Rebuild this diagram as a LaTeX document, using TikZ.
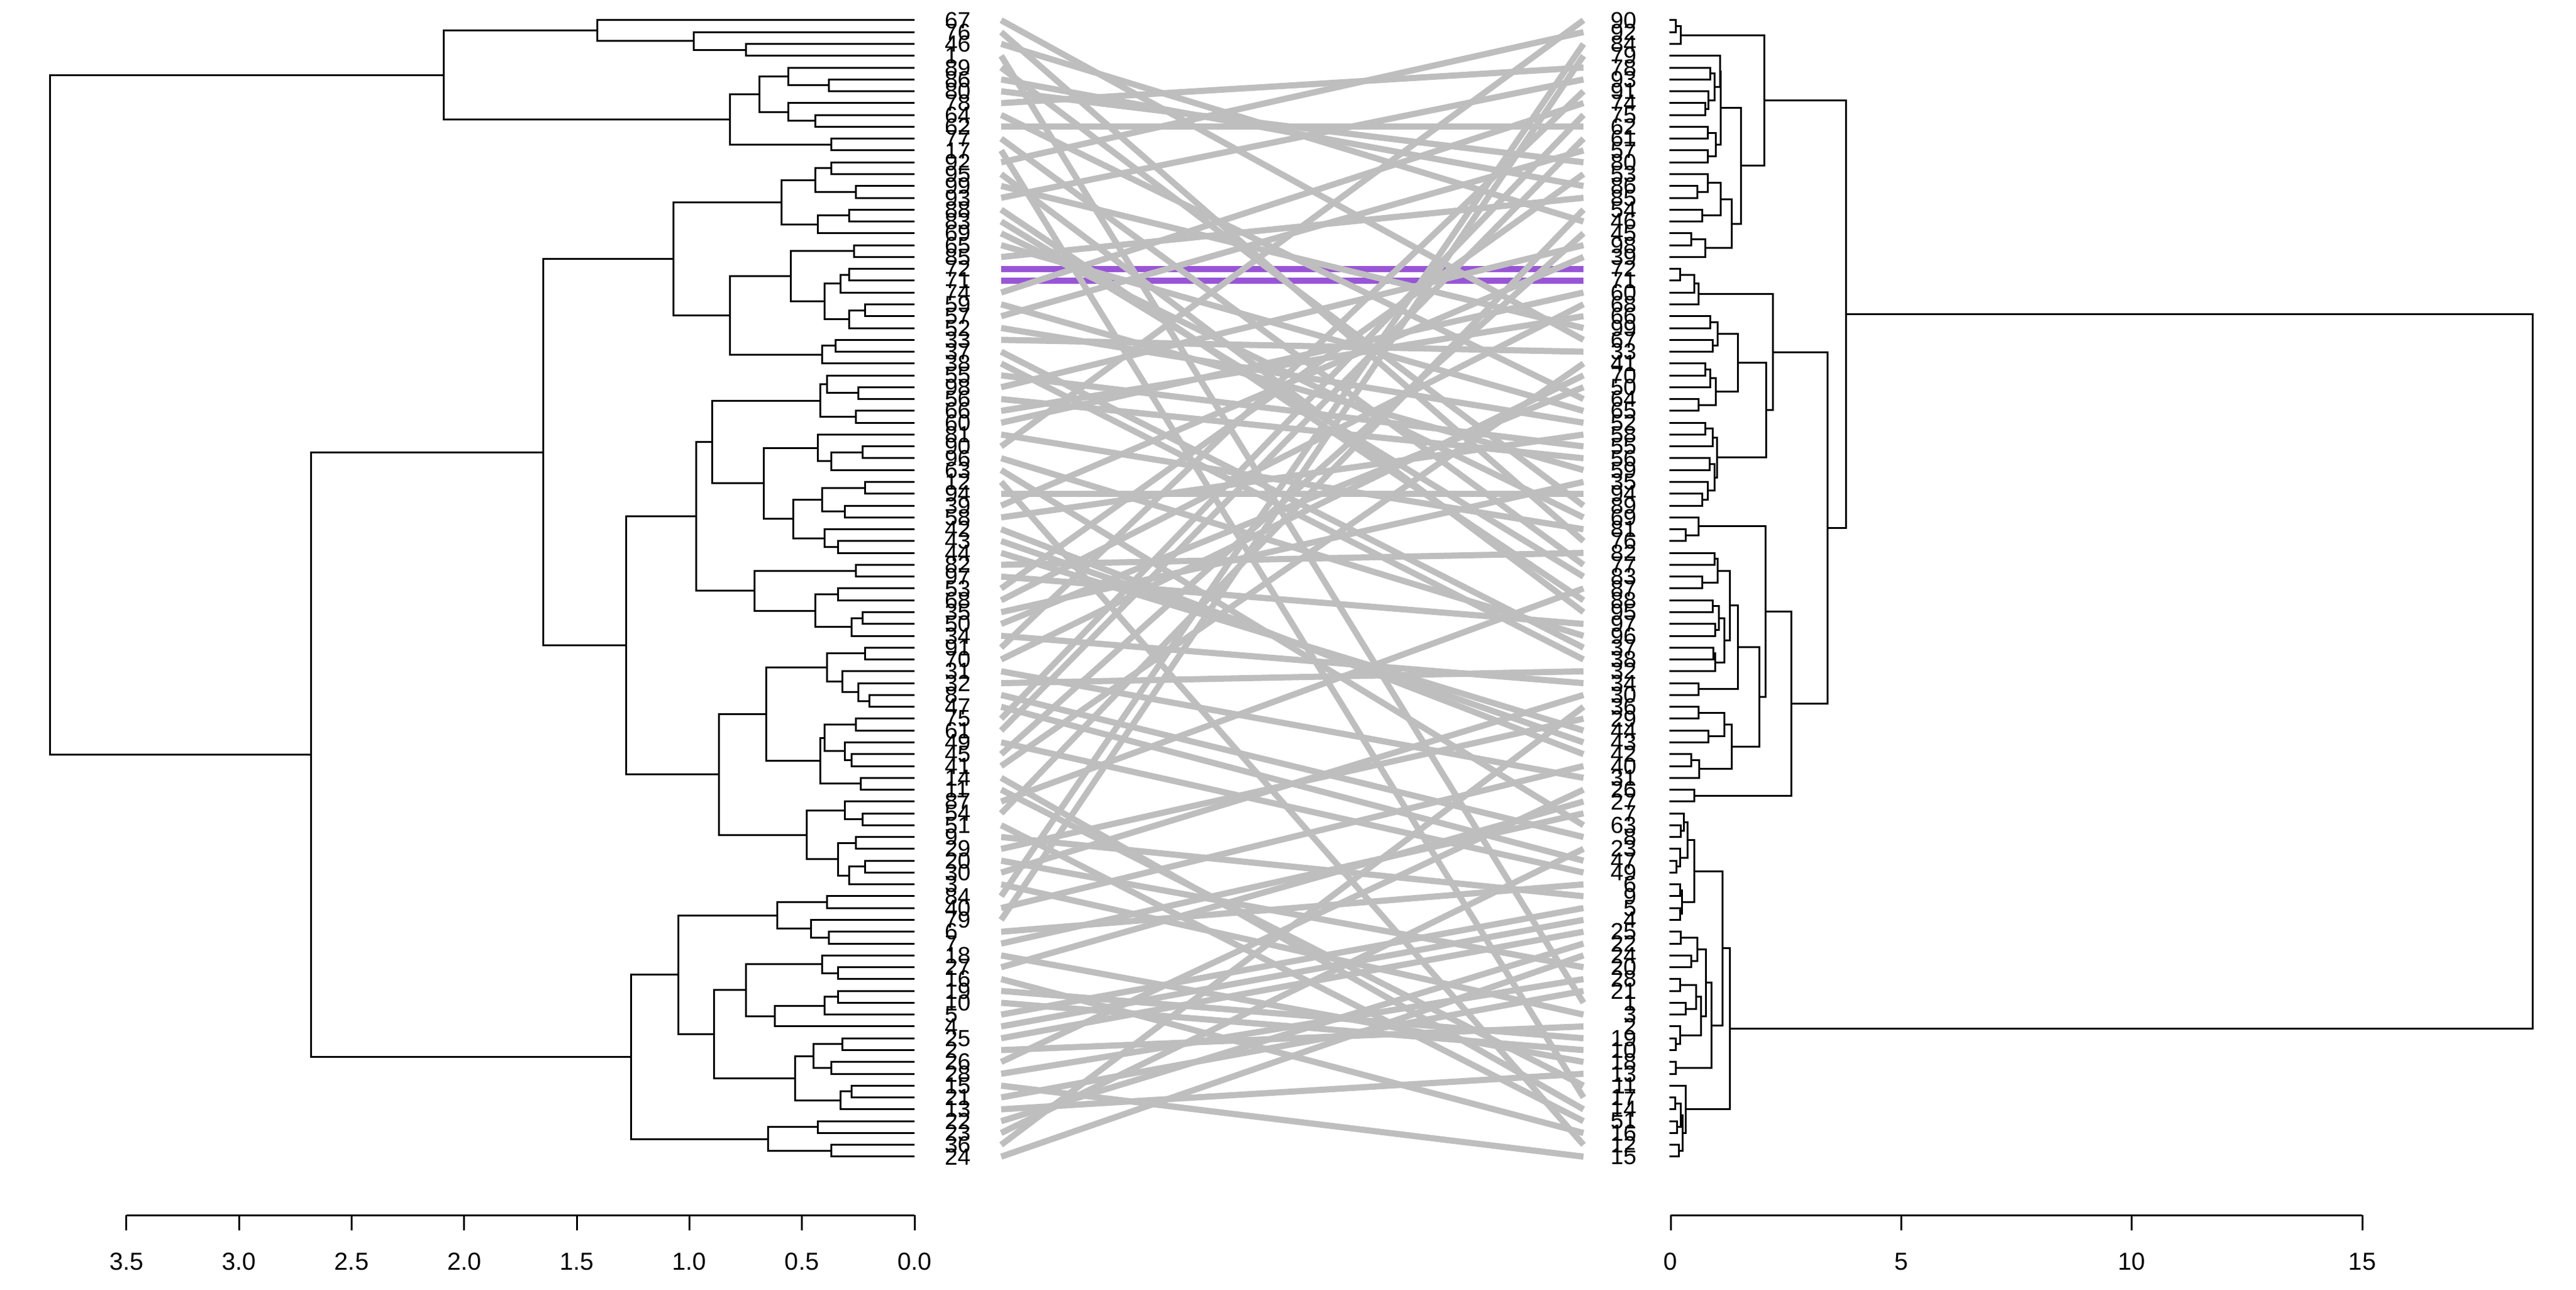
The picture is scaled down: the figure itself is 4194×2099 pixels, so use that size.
\documentclass[tikz,border=0pt]{standalone}
\usepackage{fontspec}
\setmainfont{Liberation Sans}
\usetikzlibrary{calc}
\definecolor{tanglegray}{RGB}{190,190,190}
\definecolor{commonpurple}{RGB}{153,85,215}
\tikzset{
  branch/.style={line width=3pt,black},
  tangle/.style={line width=10pt,tanglegray},
  common/.style={line width=10pt,commonpurple},
  leaflab/.style={inner sep=0pt,font=\fontsize{38}{38}\selectfont},
  ticklab/.style={inner sep=0pt,font=\fontsize{40}{40}\selectfont},
  axisline/.style={line width=3pt,black}
}
% join two subtrees at a height (left tree grows to the left, right tree to the right)
\newcommand\ljoin[4]{\path let \p1=(#2),\p2=(#3) in coordinate (#1) at ({1489pt-366.6pt*#4},{0.5*(\y1+\y2)});
  \draw[branch] (#2) -| (#1) |- (#3);}
\newcommand\rjoin[4]{\path let \p1=(#2),\p2=(#3) in coordinate (#1) at ({2720pt+75.07pt*#4},{0.5*(\y1+\y2)});
  \draw[branch] (#2) -| (#1) |- (#3);}
\def\leftlabels{67,76,46,1,89,86,80,78,64,62,77,17,92,95,99,93,88,83,69,65,85,72,71,74,59,57,52,33,37,38,55,98,56,66,60,81,90,96,63,12,94,39,58,42,43,44,82,97,53,68,35,50,34,91,70,31,32,8,47,75,61,49,45,41,14,11,87,54,51,9,29,20,30,3,84,40,79,6,7,18,27,16,19,10,5,4,25,2,26,28,15,21,13,22,23,36,24}
\def\rightlabels{90,92,84,79,78,93,91,74,75,62,61,57,80,53,86,85,54,46,45,98,39,72,71,60,68,66,99,67,33,41,70,50,64,65,52,58,55,56,59,35,94,89,69,81,76,82,77,83,87,88,95,97,96,37,38,32,34,30,36,29,44,43,42,40,31,26,27,7,63,8,23,47,49,6,9,5,4,25,22,24,20,28,21,1,3,2,19,10,18,13,11,17,14,51,16,12,15}
\begin{document}
\begin{tikzpicture}[x=1pt,y=1pt]
\useasboundingbox (0,0) rectangle (4194,2099);
\fill[white] (0,0) rectangle (4194,2099);

% leaves, labels and line ends
\foreach \lab [count=\i] in \leftlabels {
  \coordinate (p\i) at (1489,{2066-19.27*(\i-1)});
  \node[leaflab,anchor=west] (ll\lab) at (1538,{2066-19.27*(\i-1)}) {\lab};
  \coordinate (tl\lab) at (1630,{2066-19.27*(\i-1)});
}
\foreach \lab [count=\i] in \rightlabels {
  \coordinate (q\i) at (2718,{2066-19.27*(\i-1)});
  \node[leaflab,anchor=east] (rl\lab) at (2665,{2066-19.27*(\i-1)}) {\lab};
  \coordinate (tr\lab) at (2578,{2066-19.27*(\i-1)});
}

% connecting lines
\draw[common] (tl72) -- (tr72);
\draw[common] (tl71) -- (tr71);
\foreach \lab in \leftlabels {
  \ifnum\lab=71\else\ifnum\lab=72\else\draw[tangle] (tl\lab) -- (tr\lab);\fi\fi
}

% left dendrogram
\foreach \nm/\ca/\cb/\hh in {a1/p3/p4/.75, a2/p2/a1/.98, a3/p1/a2/1.41,
  b1/p6/p7/.38, b2/p5/b1/.56, b3/p9/p10/.44, b4/p8/b3/.56, b5/b2/b4/.69, b6/p11/p12/.37, b7/b5/b6/.82,
  t1/a3/b7/2.09,
  c1/p13/p14/.37, c2/p15/p16/.26, c3/c1/c2/.44, c4/p17/p18/.29, c5/c4/p19/.43, c6/c3/c5/.59,
  d1/p20/p21/.27, d2/p22/p23/.29, d3/d2/p24/.33, d4/p25/p26/.22, d5/d4/p27/.29, d6/d3/d5/.40,
  d7/d1/d6/.55, d8/p28/p29/.35, d9/d8/p30/.41, d10/d7/d9/.82, d11/c6/d10/1.07,
  e1/p32/p33/.25, e2/p31/e1/.39, e3/p34/p35/.26, e4/e2/e3/.42,
  e5/p37/p38/.23, e6/e5/p39/.37, e7/p36/e6/.43, e8/p40/p41/.22, e9/p42/p43/.31, e10/e8/e9/.41,
  e11/p45/p46/.34, e12/p44/e11/.40, e13/e10/e12/.54, e14/e7/e13/.67, e15/e4/e14/.90,
  e16/p47/p48/.26, e17/p49/p50/.34, e18/p51/p52/.23, e19/e18/p53/.28, e20/e17/e19/.44, e21/e16/e20/.71,
  e22/e15/e21/.97,
  f1/p54/p55/.22, f2/p58/p59/.20, f3/p57/f2/.25, f4/p56/f3/.32, f5/f1/f4/.39,
  f6/p60/p61/.26, f7/p63/p64/.28, f8/p62/f7/.31, f9/f6/f8/.40, f10/p65/p66/.24, f11/f9/f10/.42, f12/f5/f11/.66,
  f13/p68/p69/.23, f14/p67/f13/.31, f15/p70/p71/.26, f16/p72/p73/.22, f17/f16/p74/.29, f18/f15/f17/.34,
  f19/f14/f18/.48, f20/f12/f19/.87,
  e23/e22/f20/1.28, g1/d11/e23/1.65,
  h1/p75/p76/.39, h2/p78/p79/.38, h3/p77/h2/.46, h4/h1/h3/.61, h5/p81/p82/.34, h6/p80/h5/.41,
  h7/p83/p84/.34, h8/h7/p85/.40, h9/h8/p86/.62, h10/h6/h9/.75, h11/p87/p88/.32, h12/p89/p90/.37,
  h13/h11/h12/.45, h14/p91/p92/.28, h15/h14/p93/.33, h16/h13/h15/.53, h17/h10/h16/.89, h18/h4/h17/1.05,
  h19/p94/p95/.43, h20/p96/p97/.37, h21/h19/h20/.65, h22/h18/h21/1.26,
  g2/g1/h22/2.68, g3/t1/g2/3.84}
  {\ljoin{\nm}{\ca}{\cb}{\hh}}

% right dendrogram
\foreach \nm/\ca/\cb/\hh in {r1/q1/q2/.11, r2/r1/q3/.22,
  r3/q5/q6/.86, r4/q8/q9/.75, r5/q7/r4/.82, r6/r3/r5/.95, r7/q4/r6/1.07, r8/q10/q11/.80, r9/q12/q13/.80,
  r10/r8/r9/.98, r11/r7/r10/1.09,
  r12/q15/q16/.58, r13/q14/r12/.80, r14/q17/q18/.69, r15/r13/r14/1.09, r16/q19/q20/.44, r17/r16/q21/.75,
  r18/r15/r17/1.33, r19/r11/r18/1.53, r20/r2/r19/2.03,
  r21/q22/q23/.20, r22/r21/q24/.51, r23/r22/q25/.60,
  r24/q26/q27/.86, r25/q28/q29/.91, r26/r24/r25/1.02, r27/q30/q31/.75, r28/r27/q32/.86, r29/q33/q34/.60,
  r30/r28/r29/.98, r31/r26/r30/1.46,
  r32/q35/q36/.75, r33/r32/q37/.91, r34/q38/q39/.84, r35/q41/q42/.69, r36/q40/r35/.80, r37/r34/r36/.95,
  r38/r33/r37/1.00, r39/r31/r38/2.07, r40/r23/r39/2.22,
  r41/q44/q45/.33, r42/q43/r41/.60,
  r43/q46/q47/.95, r44/q48/q49/.69, r45/r43/r44/1.02, r46/q50/q51/.91, r47/q52/q53/.96, r48/r46/r47/1.04,
  r49/q54/q55/.93, r50/r49/q56/.96, r51/r48/r50/1.16, r52/r45/r51/1.29, r53/q57/q58/.60, r54/r52/r53/1.46,
  r55/q59/q60/.60, r56/q61/q62/.82, r57/r55/r56/1.16, r58/q63/q64/.44, r59/r58/q65/.62, r60/r57/r59/1.33,
  r61/r54/r60/1.93, r62/r42/r61/2.06, r63/q66/q67/.51, r64/r62/r63/2.62, r65/r40/r64/3.40, r66/r20/r65/3.80,
  r67/q69/q70/.22, r68/q68/r67/.29, r69/q72/q73/.12, r70/q71/r69/.20, r71/r68/r70/.36, r72/q74/q75/.20,
  r73/q76/q77/.20, r74/r72/r73/.24, r75/r71/r74/.51,
  r76/q78/q79/.22, r77/q80/q81/.44, r78/r76/r77/.58, r79/q82/q83/.20, r80/q84/q85/.33, r81/r79/r80/.55,
  r82/q87/q88/.11, r83/q86/r82/.20, r84/r81/r83/.66, r85/r78/r84/.77, r86/q89/q90/.11, r87/r85/r86/.88,
  r88/r75/r87/1.12,
  r89/q92/q93/.10, r90/q94/q95/.14, r91/r89/r90/.22, r92/q96/q97/.18, r93/r91/r92/.26, r94/q91/r93/.33,
  r95/r88/r94/1.28, r96/r66/r95/18.70}
  {\rjoin{\nm}{\ca}{\cb}{\hh}}

% axes
\draw[axisline] (206,121) -- (1489,121);
\foreach \hv/\tv [count=\k] in {0/0.0,0.5/0.5,1/1.0,1.5/1.5,2/2.0,2.5/2.5,3/3.0,3.5/3.5} {
  \draw[axisline] ({1489-366.6*\hv},121) -- ++(0,-25);
  \node[ticklab] (lx\k) at ({1489-366.6*\hv},45) {\tv};
}
\draw[axisline] (2720,121) -- (3846,121);
\foreach \hv [count=\k] in {0,5,10,15} {
  \draw[axisline] ({2720+75.07*\hv},121) -- ++(0,-25);
  \node[ticklab] (rx\k) at ({2720+75.07*\hv},45) {\hv};
}
\end{tikzpicture}
\end{document}
